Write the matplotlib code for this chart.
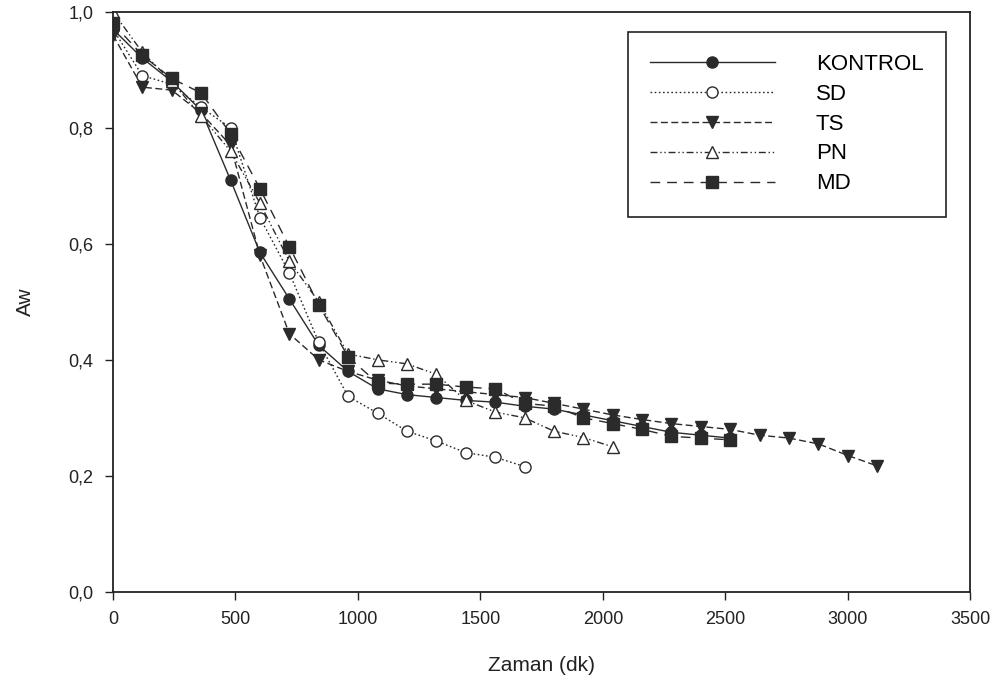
import numpy as np
import matplotlib.pyplot as plt
from matplotlib.ticker import FuncFormatter

# sampling every 120 min
step = 120
kontrol = [0.97, 0.92, 0.88, 0.83, 0.71, 0.585, 0.505, 0.425, 0.38, 0.35, 0.34,
           0.335, 0.33, 0.327, 0.32, 0.315, 0.305, 0.295, 0.285, 0.275, 0.27, 0.265]
sd = [0.97, 0.89, 0.875, 0.835, 0.80, 0.645, 0.55, 0.43, 0.337, 0.308, 0.277,
      0.26, 0.24, 0.232, 0.216]
ts = [0.96, 0.87, 0.865, 0.825, 0.77, 0.58, 0.445, 0.40, 0.38, 0.365, 0.355,
      0.35, 0.345, 0.34, 0.335, 0.325, 0.315, 0.305, 0.297, 0.29, 0.285, 0.28,
      0.27, 0.265, 0.255, 0.235, 0.217]
pn = [1.0, 0.93, 0.88, 0.82, 0.76, 0.67, 0.57, 0.50, 0.41, 0.40, 0.393, 0.375,
      0.33, 0.31, 0.30, 0.277, 0.266, 0.25]
md = [0.98, 0.925, 0.885, 0.86, 0.79, 0.695, 0.595, 0.495, 0.405, 0.36, 0.358,
      0.358, 0.353, 0.35, 0.325, 0.32, 0.30, 0.29, 0.28, 0.268, 0.265, 0.262]

labels = ['KONTROL', 'SD', 'TS', 'PN', 'MD']
x_ticks = [0, 500, 1000, 1500, 2000, 2500, 3000, 3500]
y_ticks = [0.0, 0.2, 0.4, 0.6, 0.8, 1.0]

plt.rcParams['font.family'] = ['Liberation Sans', 'DejaVu Sans']

ink = '#2b2b2b'
styles = [
    dict(linestyle='-', marker='o', mfc=ink),
    dict(linestyle=(0, (1.2, 1.8)), marker='o', mfc='white'),
    dict(linestyle=(0, (5, 2.5)), marker='v', mfc=ink),
    dict(linestyle=(0, (5, 2, 1, 2, 1, 2)), marker='^', mfc='white'),
    dict(linestyle=(0, (7, 5)), marker='s', mfc=ink),
]

fig = plt.figure(figsize=(10.04, 6.93), dpi=100)
ax = fig.add_axes([0.1125, 0.146, 0.854, 0.837])

for vals, lab, st in zip([kontrol, sd, ts, pn, md], labels, styles):
    t = np.arange(len(vals)) * step
    ax.plot(t, vals, color=ink, lw=1.0, ms=8, mec=ink, mew=1.0,
            label=lab, **st)

ax.set_xlim(0, 3500)
ax.set_ylim(0, 1.0)
ax.set_xticks(x_ticks)
ax.set_yticks(y_ticks)
ax.yaxis.set_major_formatter(FuncFormatter(lambda v, p: f'{v:.1f}'.replace('.', ',')))
ax.tick_params(direction='out', length=6, width=1, labelsize=13, colors='#222222', pad=8)
for s in ax.spines.values():
    s.set_linewidth(1.3)
    s.set_color('#222222')

ax.set_xlabel('Zaman (dk)', fontsize=15, labelpad=20, color='#222222')
ax.set_ylabel('Aw', fontsize=15, labelpad=24, color='#222222')

leg = ax.legend(loc='upper right', bbox_to_anchor=(0.971, 0.966), fontsize=16,
                handlelength=5.6, handletextpad=1.85, labelspacing=0.4,
                borderpad=1.0, borderaxespad=0, fancybox=False,
                edgecolor='#222222', framealpha=1)
leg.get_frame().set_linewidth(1.2)

fig.savefig('out.png', dpi=100)
